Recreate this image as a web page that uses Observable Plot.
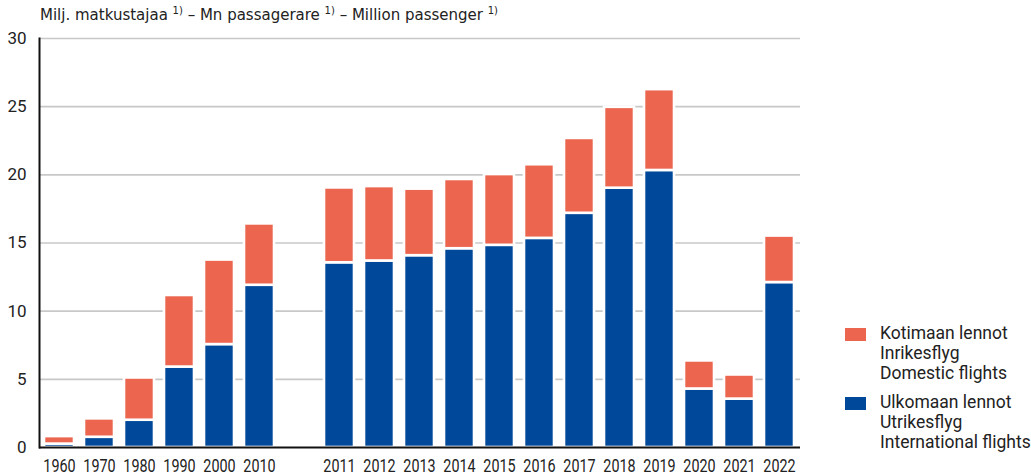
<!DOCTYPE html>
<html>
<head>
<meta charset="utf-8">
<script src="https://cdn.jsdelivr.net/npm/d3@7"></script>
<script src="https://cdn.jsdelivr.net/npm/@observablehq/plot@0.6"></script>
<style>
  body { margin: 0; background: #fff; }
  #wrap { position: relative; width: 1031px; height: 476px; overflow: hidden; }
  #title { position: absolute; left: 40px; top: 8px; font-family: "DejaVu Sans", sans-serif; font-size: 15px; line-height: 15px; color: #222; white-space: nowrap; }
  #title sup { font-size: 10px; vertical-align: 6px; line-height: 0; }
  .leg { position: absolute; font-family: Roboto, sans-serif; font-size: 17.5px; line-height: 20px; color: #222; white-space: nowrap; }
  .sw { position: absolute; width: 21px; height: 13px; }
  #chart { position: absolute; left: 0; top: 0; }
</style>
</head>
<body>
<div id="wrap">
  <div id="chart"></div>
  <div id="title"></div>
  <div id="legend"></div>
</div>
<script>
// Categories (the empty slot separates the decade bars from the yearly bars)
const categories = ["1960", "1970", "1980", "1990", "2000", "2010", "gap",
  "2011", "2012", "2013", "2014", "2015", "2016", "2017", "2018", "2019", "2020", "2021", "2022"];
const years = ["1960", "1970", "1980", "1990", "2000", "2010",
  "2011", "2012", "2013", "2014", "2015", "2016", "2017", "2018", "2019", "2020", "2021", "2022"];
// Million passengers
const international = [0.25, 0.75, 2.0, 5.9, 7.55, 11.9,
  13.55, 13.68, 14.07, 14.58, 14.83, 15.34, 17.18, 19.02, 20.32, 4.29, 3.55, 12.1];
const domestic = [0.55, 1.35, 3.1, 5.25, 6.2, 4.5,
  5.49, 5.46, 4.88, 5.08, 5.19, 5.4, 5.49, 5.93, 5.93, 2.06, 1.77, 3.41];
const yTicks = [0, 5, 10, 15, 20, 25, 30];
const seriesNames = ["Ulkomaan lennot", "Kotimaan lennot"];
const legendLines = {
  "Kotimaan lennot": ["Kotimaan lennot", "Inrikesflyg", "Domestic flights"],
  "Ulkomaan lennot": ["Ulkomaan lennot", "Utrikesflyg", "International flights"]
};
const titleParts = ["Milj. matkustajaa", "Mn passagerare", "Million passenger"];
const colors = {"Ulkomaan lennot": "#00489a", "Kotimaan lennot": "#ec654f"};

const rows = [];
years.forEach((yr, i) => {
  rows.push({year: yr, type: "Ulkomaan lennot", value: international[i]});
  rows.push({year: yr, type: "Kotimaan lennot", value: domestic[i]});
});

const chart = Plot.plot({
  width: 1031,
  height: 476,
  marginLeft: 39,
  marginRight: 231,
  marginTop: 38,
  marginBottom: 29,
  style: {fontFamily: "Roboto, sans-serif", fontSize: "17px", color: "#222", background: "white"},
  x: {domain: categories, paddingInner: 0.24, paddingOuter: 0.12, label: null},
  y: {domain: [0, 30], label: null},
  color: {domain: seriesNames, range: seriesNames.map(s => colors[s])},
  marks: [
    Plot.gridY(yTicks.filter(d => d > 0), {stroke: "#c8c8c8", strokeOpacity: 1, strokeWidth: 1.6}),
    Plot.barY(rows, {x: "year", y: "value", fill: "type", order: seriesNames, stroke: "white", strokeWidth: 2.6}),
    Plot.axisY({ticks: yTicks, tickSize: 0, tickPadding: 13, fontSize: 17, label: null}),
    Plot.axisX({tickSize: 0, tickPadding: 12, fontSize: 17.5, label: null, tickFormat: d => d === "gap" ? "" : d}),
    Plot.frame({anchor: "left", stroke: "#111", strokeWidth: 2}),
    Plot.ruleY([0], {stroke: "#111", strokeWidth: 2.2})
  ]
});
document.getElementById("chart").appendChild(chart);

// Condense the year labels horizontally, as in the reference
chart.querySelectorAll("g[aria-label='x-axis tick label'] text").forEach(t => {
  const tr = t.getAttribute("transform") || "";
  t.setAttribute("transform", tr + " scale(0.82,1)");
});

// Title
const title = document.getElementById("title");
title.innerHTML = titleParts.map(t => `${t} <sup>1)</sup>`).join(" – ");

// Legend
const legend = document.getElementById("legend");
const blocks = [
  {name: "Kotimaan lennot", top: 323},
  {name: "Ulkomaan lennot", top: 392}
];
blocks.forEach(b => {
  const sw = document.createElement("div");
  sw.className = "sw";
  sw.style.left = "845px";
  sw.style.top = (b.top + 5) + "px";
  sw.style.background = colors[b.name];
  legend.appendChild(sw);
  legendLines[b.name].forEach((line, j) => {
    const d = document.createElement("div");
    d.className = "leg";
    d.style.left = "880px";
    d.style.top = (b.top + j * 20) + "px";
    d.textContent = line;
    legend.appendChild(d);
  });
});
</script>
</body>
</html>
